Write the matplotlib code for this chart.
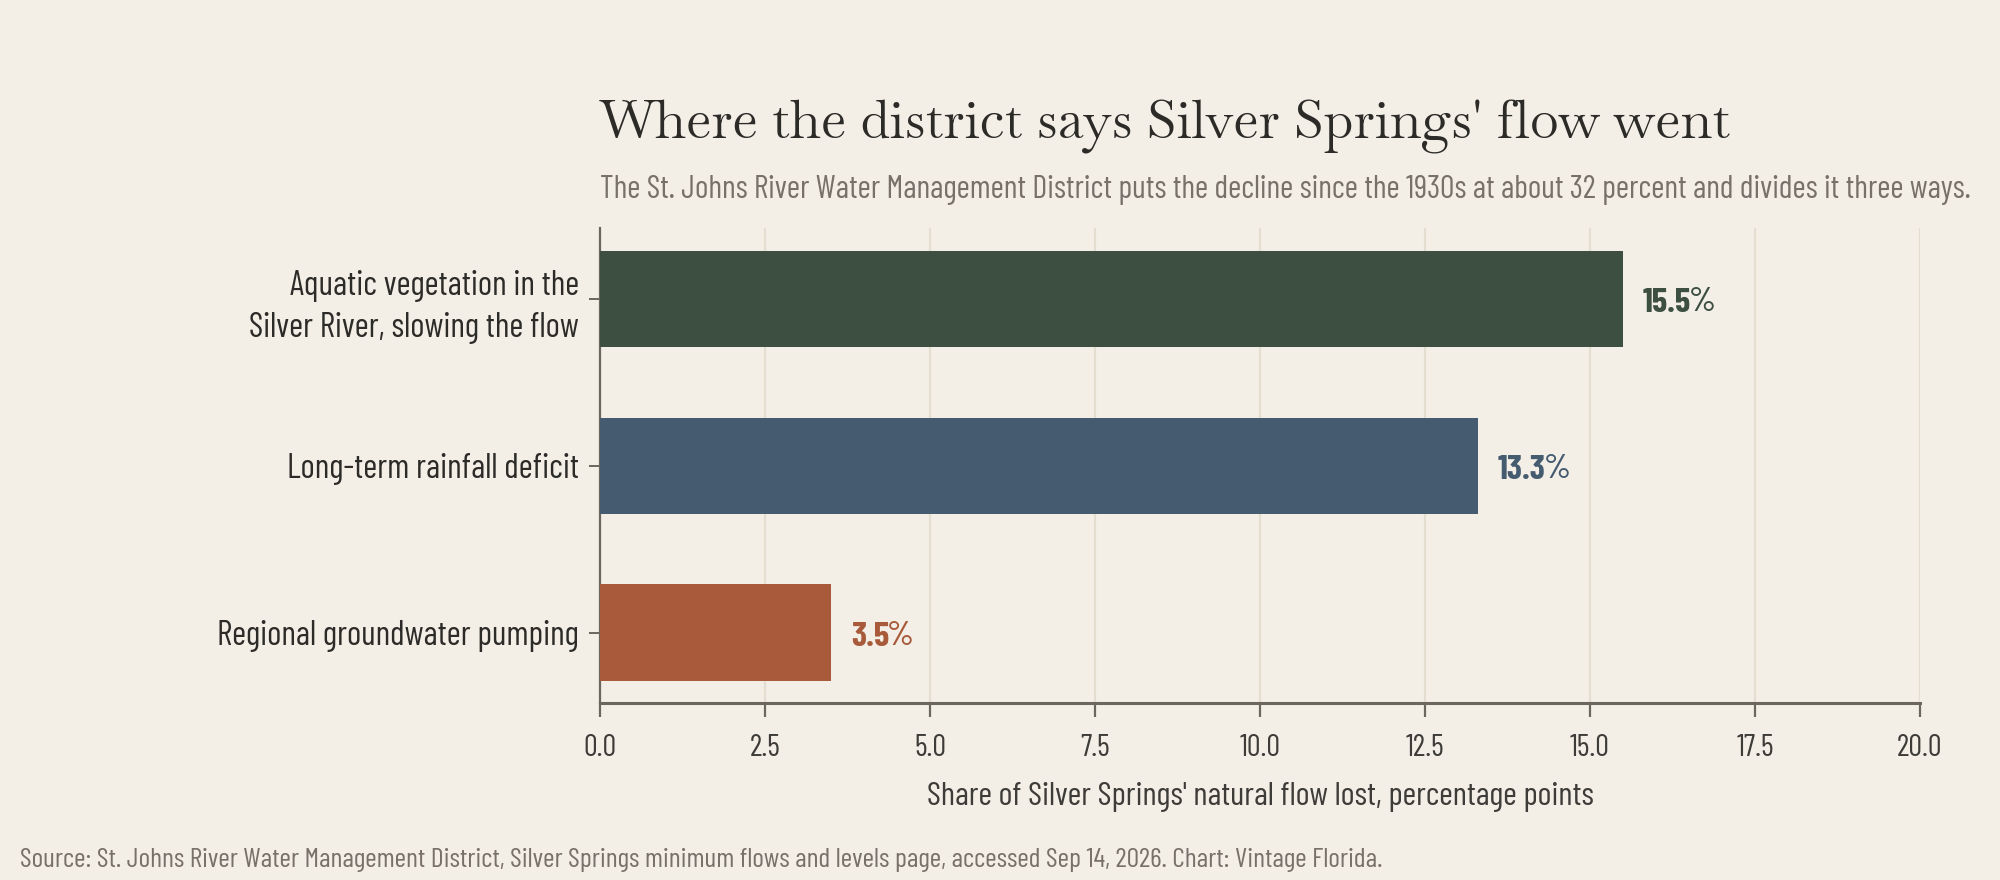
import matplotlib
matplotlib.use("Agg")
import matplotlib.pyplot as plt
from matplotlib.transforms import offset_copy

categories = ["Aquatic vegetation in the\nSilver River, slowing the flow",
              "Long-term rainfall deficit",
              "Regional groundwater pumping"]
values = [15.5, 13.3, 3.5]
bar_colors = ["#3C4F41", "#445B70", "#A85A3B"]
xticks = [0.0, 2.5, 5.0, 7.5, 10.0, 12.5, 15.0, 17.5, 20.0]

title = "Where the district says Silver Springs' flow went"
subtitle = ("The St. Johns River Water Management District puts the decline since the 1930s "
            "at about 32 percent and divides it three ways.")
xlabel = "Share of Silver Springs' natural flow lost, percentage points"
source = ("Source: St. Johns River Water Management District, Silver Springs minimum flows and "
          "levels page, accessed Sep 14, 2026. Chart: Vintage Florida.")

BG = "#F3EFE7"
SANS = ["Barlow Condensed", "DejaVu Sans"]
SERIF = ["Baskervville", "Libre Baskerville", "DejaVu Serif"]
DARK = "#2C2B28"
GREY = "#77716A"
SPINE = "#6B665E"
GRID = "#E4DED1"

plt.rcParams["font.family"] = SANS

fig = plt.figure(figsize=(20, 8.8), dpi=100, facecolor=BG)
ax = fig.add_axes([0.30, 0.2011, 0.66, 0.5398], facecolor=BG)

ypos = list(range(len(categories)))
ax.barh(ypos, values, height=0.58, color=bar_colors, zorder=3)
ax.set_ylim(2.42, -0.425)
ax.set_xlim(0, 20)
ax.set_xticks(xticks)
ax.set_xticklabels([f"{t:.1f}" for t in xticks])
ax.set_yticks(ypos)
ax.set_yticklabels(categories, fontsize=24.5, color=DARK, linespacing=1.38)

ax.grid(axis="x", color=GRID, linewidth=1.6, zorder=0)
ax.grid(axis="y", visible=False)
for s in ["top", "right"]:
    ax.spines[s].set_visible(False)
ax.spines["left"].set_color(SPINE)
ax.spines["left"].set_linewidth(1.6)
ax.spines["bottom"].set_color(SPINE)
ax.spines["bottom"].set_linewidth(2.2)

ax.tick_params(axis="x", length=10, width=1.6, color=SPINE, labelsize=22,
               labelcolor="#3E3C38", pad=12)
ax.tick_params(axis="y", length=8, width=1.4, color=SPINE, pad=7)

fig.canvas.draw()
renderer = fig.canvas.get_renderer()
for y, v, c in zip(ypos, values, bar_colors):
    num = ax.text(v, y, f"{v:.1f}", fontsize=25, fontweight="bold", color=c,
                  va="center", ha="left", zorder=4,
                  transform=offset_copy(ax.transData, fig=fig, x=20, y=-4, units="dots"))
    bb = num.get_window_extent(renderer=renderer)
    w = bb.width
    ax.text(v, y, "%", fontsize=25, fontweight="medium", color=c,
            va="center", ha="left", zorder=4,
            transform=offset_copy(ax.transData, fig=fig, x=20 + w - 2, y=-4, units="dots"))

fig.text(0.30, 1 - 139 / 880, title, family=SERIF, fontsize=38.4, color=DARK,
         ha="left", va="baseline")
fig.text(0.30, 1 - 198 / 880, subtitle, fontsize=23.1, color=GREY,
         ha="left", va="baseline")
fig.text(0.30 + 0.66 / 2, 1 - 797 / 880, xlabel, fontsize=24, color="#3E3C38",
         ha="center", va="center")
fig.text(0.01, 1 - 867 / 880, source, fontsize=20, color=GREY,
         ha="left", va="baseline")

fig.savefig("out.png", dpi=100, facecolor=BG)
